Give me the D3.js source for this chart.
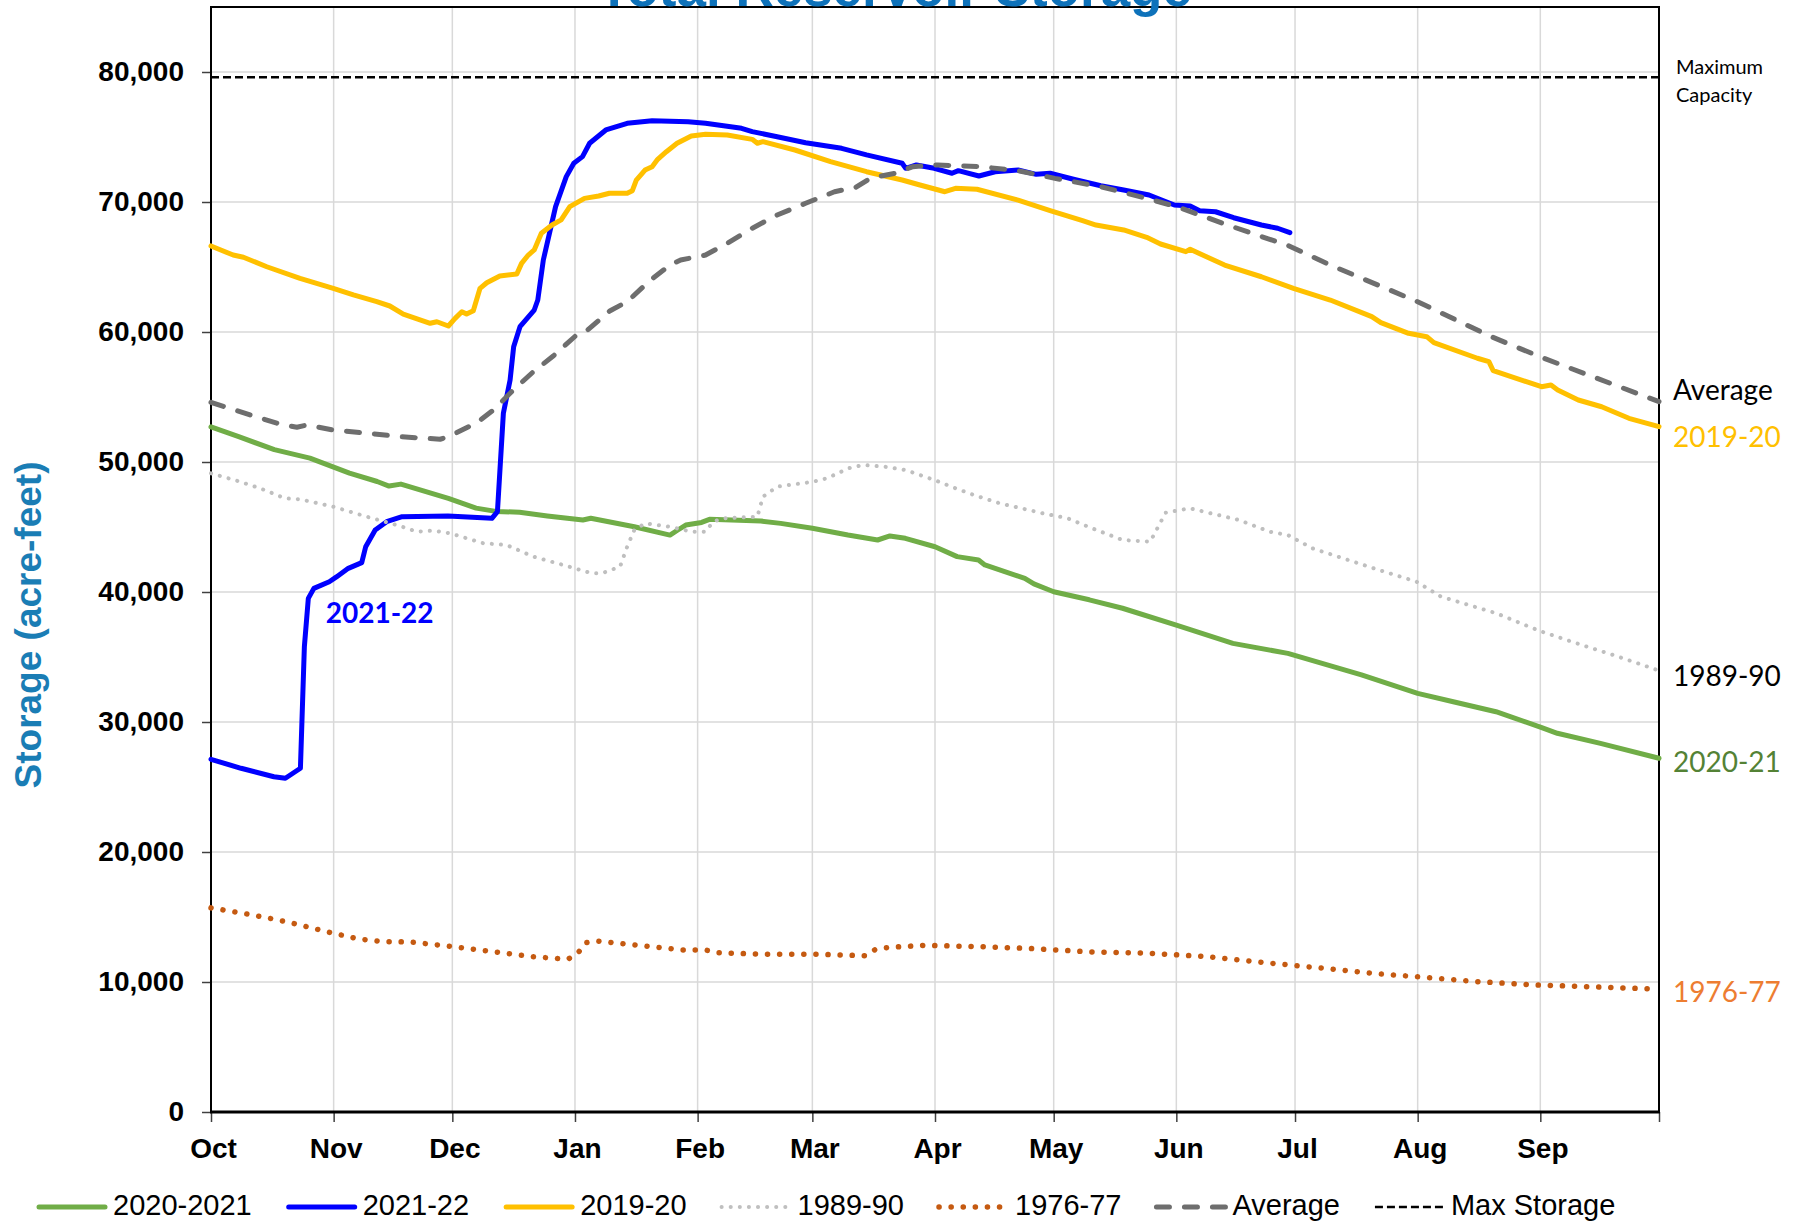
<!DOCTYPE html>
<html>
<head>
<meta charset="utf-8">
<script src="https://cdn.jsdelivr.net/npm/d3@7"></script>
<style>
  body { margin: 0; background: #fff; }
  svg { display: block; }
</style>
</head>
<body>
<div id="container"></div>
<script>
// storage in acre-feet, [days after Oct 1, value]
var wy2020_21 = [[0,52700],[7,51950],[16,50950],[25,50300],[35,49150],[42,48500],[45,48150],[48,48300],[60,47200],[67,46450],[72,46200],[78,46130],[85,45850],[94,45540],[96,45670],[107,45020],[116,44380],[118,44770],[120,45150],[124,45350],[126,45590],[139,45460],[144,45280],[152,44900],[161,44380],[168.5,44000],[171.6,44310],[175.5,44130],[183,43480],[188.6,42720],[194,42460],[195.6,42080],[205.7,41050],[208,40620],[213,40020],[222,39400],[230.4,38750],[244,37460],[258.3,36050],[272.2,35280],[290.8,33620],[305,32200],[314,31560],[324.8,30790],[336.2,29590],[340.3,29130],[351.2,28360],[366,27210]];

var wy2021_22 = [[0,27130],[7.6,26440],[15.9,25790],[18.8,25670],[22.6,26440],[23.6,35790],[24.6,39510],[26,40280],[29.9,40790],[31.8,41180],[34.7,41820],[38.1,42260],[39.1,43480],[41.5,44770],[44.4,45410],[48.3,45790],[59.9,45850],[71,45670],[72.4,46180],[73.9,53750],[75.6,56310],[76.5,58870],[78.1,60410],[81.7,61690],[82.6,62460],[84,65540],[87.1,69640],[89.8,71950],[91.7,72980],[93.9,73490],[95.7,74520],[99.8,75540],[105.2,76050],[111.5,76250],[120.6,76180],[125,76050],[134.1,75670],[136.8,75410],[143.1,75020],[150.3,74560],[159.4,74130],[165.7,73620],[174.7,72980],[175.6,72590],[178.3,72850],[182.8,72590],[187.3,72210],[188.9,72410],[194.1,72000],[198.2,72330],[204,72460],[208.6,72130],[212.1,72210],[218,71750],[224.9,71250],[230.7,70920],[237.1,70540],[243.5,69770],[247.5,69690],[249.9,69330],[253.9,69250],[258.5,68790],[265.5,68230],[269.6,67980],[272.7,67640]];

var wy2019_20 = [[0,66620],[5.6,65920],[8.2,65750],[14.1,65020],[22.5,64130],[30.9,63360],[36,62850],[41.9,62330],[45.2,62000],[48.6,61380],[55.4,60670],[57.1,60790],[60,60460],[61.7,61050],[63.4,61560],[64.6,61380],[66.3,61640],[68,63360],[69.7,63790],[73,64310],[77.3,64460],[78.5,65280],[80.2,65920],[81.7,66310],[83.5,67590],[86.2,68230],[88.5,68620],[90.7,69640],[94.4,70280],[98,70460],[100.7,70670],[105.2,70670],[106.5,70870],[107.5,71690],[109.7,72460],[111.5,72720],[112.9,73280],[115.1,73870],[117.8,74520],[121.4,75080],[125,75210],[130.5,75150],[136.8,74820],[138.1,74520],[139.5,74640],[147.6,74000],[156.6,73100],[165.7,72330],[174.7,71690],[179.2,71310],[185.5,70790],[188.2,71050],[193.6,70980],[204,70150],[212.1,69330],[220.3,68560],[223.7,68230],[230.7,67850],[236.5,67280],[240,66770],[246.4,66180],[247.5,66360],[256.2,65150],[265.5,64250],[273.6,63360],[282.9,62460],[293.4,61180],[295.7,60720],[302.7,59900],[307.3,59640],[309.1,59180],[320.1,57980],[323,57720],[324.1,57020],[336.3,55790],[338.7,55920],[340.4,55540],[345.6,54770],[351.5,54250],[358.4,53360],[366,52720]];

var wy1989_90 = [[0,49130],[6.5,48560],[12.4,47980],[18.7,47210],[22.5,47130],[30.9,46560],[39.4,45790],[47.8,45080],[52,44640],[56.2,44720],[60.4,44520],[68.8,43750],[74.7,43620],[81.5,42720],[89,42080],[96.2,41440],[98.8,41440],[103.4,41950],[105.2,43490],[107,44770],[109.7,45280],[116,45020],[121.4,44640],[125,44640],[126.9,45410],[129.6,45670],[138.1,45790],[139.5,47330],[143.1,48100],[152.2,48480],[155.7,48750],[161.2,49520],[164.8,49770],[170.2,49640],[175.6,49380],[182.8,48620],[188.2,47980],[192.8,47460],[199.4,46820],[210.3,46050],[216.5,45670],[222.7,44900],[230.4,44000],[237.4,43870],[241.3,46100],[247.4,46440],[259.8,45540],[267.6,44640],[272.2,44380],[278.4,43360],[293.9,41820],[304.7,40790],[310.9,39640],[324.9,38360],[335.7,37020],[346.5,35920],[355.8,35020],[366,33950]];

var wy1976_77 = [[0,15700],[9.6,15210],[19,14640],[30.9,13750],[37.3,13310],[43.8,13100],[50.2,13080],[59.2,12790],[71.5,12330],[81.1,11950],[90.2,11750],[92.8,12250],[94.7,13020],[97.6,13150],[107,12850],[119.2,12460],[125,12460],[128.2,12250],[140.5,12130],[153.4,12130],[165.6,12020],[167.8,12480],[171.4,12670],[180.5,12820],[194.4,12720],[207,12580],[222,12320],[236,12230],[251,11970],[265,11530],[280,11090],[294,10650],[306,10380],[320,10030],[335,9770],[352,9600],[366,9450]];

var average = [[0,54590],[9.9,53620],[17.4,52920],[21.7,52670],[24.2,52850],[30.9,52460],[39.4,52210],[47.8,51950],[57.9,51750],[60.4,52000],[67.2,53020],[71.4,54000],[76.4,55540],[81.5,56950],[86.5,58150],[92.4,59770],[95,60100],[100.9,61640],[105.2,62330],[110.6,63870],[116,65150],[118.7,65540],[125,65920],[130.5,66820],[136.8,67980],[143.1,69000],[150.3,69900],[157.6,70790],[163,71130],[166.6,71820],[172.9,72210],[177.4,72720],[183.7,72850],[194.4,72720],[204,72410],[213.3,71820],[224.9,71180],[236.5,70280],[244.6,69590],[256.2,68310],[272.5,66620],[282.9,65150],[305,62330],[323.6,59640],[336.3,58050],[366,54640]];

var maxStorage = [[0,79600],[366,79600]];

var yTicks = [0,10000,20000,30000,40000,50000,60000,70000,80000];

var width = 1796,
    height = 1225;

var svg = d3.select("div#container")
    .append("svg")
    .attr("width", width)
    .attr("height", height)
    .style("font-family", "'Liberation Sans', Arial, sans-serif");

var start = new Date(2019, 9, 1),
    end = new Date(2020, 9, 1);

function toDate(d) {
    return new Date(+start + d * 864e5)
}

var x = d3.scaleTime().domain([start, end]).range([211, 1659]);
var y = d3.scaleLinear().domain([0, 85000]).range([1112, 7]);

var months = d3.timeMonth.range(start, end);

//gridlines
svg.append("g")
    .selectAll("line")
    .data(yTicks.filter(function (d) { return d > 0 }))
    .enter().append("line")
    .attr("x1", x.range()[0]).attr("x2", x.range()[1])
    .attr("y1", function (d) { return y(d) })
    .attr("y2", function (d) { return y(d) })
    .style("stroke", "#d9d9d9")
    .style("stroke-width", 1.5)

svg.append("g")
    .selectAll("line")
    .data(months.slice(1))
    .enter().append("line")
    .attr("x1", function (d) { return x(d) })
    .attr("x2", function (d) { return x(d) })
    .attr("y1", y.range()[1]).attr("y2", y.range()[0])
    .style("stroke", "#d9d9d9")
    .style("stroke-width", 1.5)

//axes
var yAxis = svg.append("g")
    .attr("transform", "translate(" + x.range()[0] + ",0)")
    .call(d3.axisLeft(y).tickValues(yTicks).tickSize(9).tickPadding(18).tickFormat(d3.format(",")))
yAxis.select(".domain").remove()
yAxis.selectAll("line").style("stroke", "#404040").style("stroke-width", 1.5)
yAxis.selectAll("text")
    .style("font-size", "28px")
    .style("font-weight", "bold")
    .style("fill", "#000")
    .style("font-family", "'Liberation Sans', Arial, sans-serif")

var xAxis = svg.append("g")
    .attr("transform", "translate(0," + y(0) + ")")
    .call(d3.axisBottom(x).tickValues(months.concat([end])).tickSize(10).tickPadding(16)
        .tickFormat(function (d) { return +d === +end ? "" : d3.timeFormat("%b")(d) }))
xAxis.select(".domain").remove()
xAxis.selectAll("line").style("stroke", "#404040").style("stroke-width", 1.5)
xAxis.selectAll("text")
    .style("font-size", "28px")
    .style("font-weight", "bold")
    .style("fill", "#000")
    .style("font-family", "'Liberation Sans', Arial, sans-serif")
    .attr("dx", 2)

//plot frame
svg.append("rect")
    .attr("x", x.range()[0]).attr("y", y.range()[1])
    .attr("width", x.range()[1] - x.range()[0])
    .attr("height", y.range()[0] - y.range()[1])
    .style("fill", "none")
    .style("stroke", "#000")
    .style("stroke-width", 2)
svg.append("line")
    .attr("x1", x.range()[0] - 1).attr("x2", x.range()[1] + 1)
    .attr("y1", y(0)).attr("y2", y(0))
    .style("stroke", "#000")
    .style("stroke-width", 3)

var series = [
    { name: "2020-2021", data: wy2020_21, color: "#70ad47", width: 5, dash: null, cap: "round" },
    { name: "2021-22", data: wy2021_22, color: "#0000ff", width: 5, dash: null, cap: "round" },
    { name: "2019-20", data: wy2019_20, color: "#ffc000", width: 5, dash: null, cap: "round" },
    { name: "1989-90", data: wy1989_90, color: "#bfbfbf", width: 4, dash: "0.1,9", cap: "round" },
    { name: "1976-77", data: wy1976_77, color: "#c55a11", width: 5.5, dash: "0.1,12", cap: "round" },
    { name: "Average", data: average, color: "#6e6e6e", width: 5, dash: "13,15", cap: "round" },
    { name: "Max Storage", data: maxStorage, color: "#000", width: 2.5, dash: "8,4", cap: "butt" }
];

var line = d3.line()
    .x(function (d) { return x(toDate(d[0])) })
    .y(function (d) { return y(d[1]) })

svg.append("g")
    .selectAll("path")
    .data(series)
    .enter().append("path")
    .attr("d", function (d) { return line(d.data) })
    .style("fill", "none")
    .style("stroke", function (d) { return d.color })
    .style("stroke-width", function (d) { return d.width })
    .style("stroke-dasharray", function (d) { return d.dash })
    .style("stroke-linecap", function (d) { return d.cap })
    .style("stroke-linejoin", "round")

//labels beside the lines (Calibri-like)
var endLabels = [
    { text: "Average", value: 54770, color: "#000" },
    { text: "2019-20", value: 51130, color: "#ffc000" },
    { text: "1989-90", value: 32770, color: "#000" },
    { text: "2020-21", value: 26180, color: "#548235" },
    { text: "1976-77", value: 8440, color: "#ed7d31" }
];

svg.append("g")
    .selectAll("text")
    .data(endLabels)
    .enter().append("text")
    .attr("x", x.range()[1] + 14)
    .attr("y", function (d) { return y(d.value) })
    .text(function (d) { return d.text })
    .style("fill", function (d) { return d.color })
    .style("font-family", "Lato, 'Open Sans', sans-serif")
    .style("font-size", "28px")

svg.append("text")
    .attr("x", x.range()[1] + 17)
    .attr("y", y(79850))
    .style("font-family", "Lato, 'Open Sans', sans-serif")
    .style("font-size", "20px")
    .text("Maximum")
svg.append("text")
    .attr("x", x.range()[1] + 17)
    .attr("y", y(77720))
    .style("font-family", "Lato, 'Open Sans', sans-serif")
    .style("font-size", "20px")
    .text("Capacity")

svg.append("text")
    .attr("x", x(toDate(29)))
    .attr("y", y(37600))
    .style("font-family", "Lato, 'Open Sans', sans-serif")
    .style("font-size", "28px")
    .style("font-weight", "bold")
    .style("fill", "#0000ff")
    .text("2021-22")

//titles
svg.append("text")
    .attr("x", 895)
    .attr("y", 5.5)
    .attr("text-anchor", "middle")
    .style("font-size", "53px")
    .style("font-weight", "bold")
    .style("fill", "#0e72ba")
    .text("Total Reservoir Storage")

svg.append("text")
    .attr("transform", "translate(41,625) rotate(-90)")
    .attr("text-anchor", "middle")
    .style("font-size", "37px")
    .style("font-weight", "bold")
    .style("fill", "#1a7db5")
    .text("Storage (acre-feet)")

//legend
var legend = svg.append("g").attr("transform", "translate(37,1207)");
var lx = 0;
series.forEach(function (s) {
    var g = legend.append("g").attr("transform", "translate(" + lx + ",0)");
    g.append("line")
        .attr("x1", s.cap === "round" && !s.dash ? 2 : 0).attr("x2", s.cap === "round" && !s.dash ? 68 : 70)
        .attr("y1", 0).attr("y2", 0)
        .style("stroke", s.color)
        .style("stroke-width", s.width)
        .style("stroke-dasharray", s.dash)
        .style("stroke-linecap", s.cap)
    var t = g.append("text")
        .attr("x", 76)
        .attr("y", 8)
        .style("font-size", "29px")
        .text(s.name)
    lx += 76 + t.node().getComputedTextLength() + 35
})
</script>
</body>
</html>
